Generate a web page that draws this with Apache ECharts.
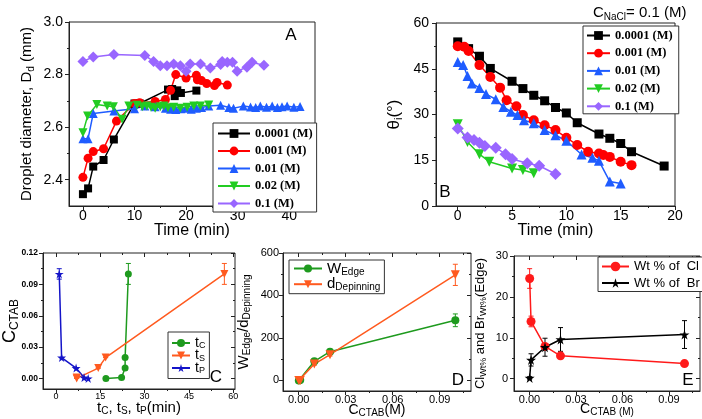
<!DOCTYPE html>
<html><head><meta charset="utf-8">
<script src="https://cdn.jsdelivr.net/npm/echarts@6/dist/echarts.min.js"></script>
<style>html,body{margin:0;padding:0;background:#fff}#c{width:702px;height:419px}</style>
</head><body><div id="c"></div>
<script>
// ---------- DATA ----------
// Panel A: droplet diameter (mm) vs time (min)
const aT1 = [0, 1, 2, 4, 6, 10, 11, 16.5, 17.3, 17.8, 18.3, 19, 22];
const aD1 = [2.345, 2.367, 2.45, 2.475, 2.553, 2.69, 2.69, 2.743, 2.745, 2.718, 2.74, 2.73, 2.739];
const aT2 = [0, 1, 2, 4, 6.5, 10, 11, 14, 16, 17, 18, 20, 22, 22.2, 23, 24, 25.5, 26, 28];
const aD2 = [2.409, 2.482, 2.507, 2.518, 2.623, 2.69, 2.693, 2.698, 2.705, 2.74, 2.80, 2.787, 2.797, 2.78, 2.777, 2.766, 2.758, 2.77, 2.76];
const aT3 = [0, 1, 2, 6, 10, 12, 14, 16, 17, 18, 19, 20, 21, 22, 23, 24.4, 26.7, 28.3, 29.2, 31.1, 32.5, 33.5, 34.4, 35.6, 36.7, 37.7, 38.6, 39.6, 40.9, 42.1];
const aD3 = [2.556, 2.556, 2.652, 2.661, 2.67, 2.68, 2.678, 2.672, 2.668, 2.667, 2.67, 2.672, 2.668, 2.672, 2.675, 2.68, 2.683, 2.675, 2.672, 2.68, 2.677, 2.675, 2.68, 2.676, 2.68, 2.675, 2.678, 2.68, 2.676, 2.679];
const aT4 = [0, 0.9, 2.7, 4.7, 5.9, 7.6, 8.9, 10.5, 11.5, 12.4, 13.2, 14, 15, 15.7, 16.5, 17.6, 18.9, 20.2, 21.5, 22.8, 24.4];
const aD4 = [2.579, 2.642, 2.686, 2.68, 2.678, 2.63, 2.68, 2.683, 2.678, 2.68, 2.676, 2.672, 2.678, 2.68, 2.674, 2.676, 2.672, 2.676, 2.68, 2.68, 2.684];
const aT5 = [0, 2, 6, 12, 13.7, 15, 16.3, 17.6, 18.9, 20, 20.8, 22.8, 24.7, 26.7, 27, 28, 29, 29.9, 31.8, 32.8, 35.1];
const aD5 = [2.85, 2.867, 2.876, 2.873, 2.85, 2.834, 2.834, 2.84, 2.834, 2.813, 2.84, 2.84, 2.825, 2.838, 2.85, 2.847, 2.847, 2.813, 2.828, 2.847, 2.835];

// Panel B: contact angle (deg) vs time (min)
const bT1 = [0, 1, 2, 3, 5, 6, 7, 8, 9, 10, 11, 13, 14, 15, 16, 19];
const bA1 = [53.8, 51.6, 49.1, 45.1, 40.9, 38.5, 36.3, 34.5, 32.3, 30.5, 27.3, 23.6, 22.2, 20.5, 17.8, 13.1];
const bT2 = [0, 0.6, 1, 2, 3, 3.9, 4.5, 5.4, 6, 7, 8, 9, 10, 11, 12, 13, 13.4, 14, 15, 16];
const bA2 = [52.4, 52.2, 50.8, 46.2, 42.3, 38.8, 34.7, 32.7, 29.8, 28.1, 26.5, 24.9, 22.4, 20, 17.8, 17.2, 16.7, 16.1, 14.5, 13.4];
const bT3 = [0, 0.5, 0.9, 1.3, 2, 2.6, 3.5, 4.2, 4.9, 5.5, 6.1, 7, 8, 9, 10, 11.4, 12.4, 13, 14, 15];
const bA3 = [47.2, 46.2, 42.6, 40.2, 38.7, 36.7, 35, 32.5, 30.9, 29.8, 28.1, 27.1, 24.9, 23.2, 21.4, 16.9, 15.8, 14.8, 8, 7.4];
const bT4 = [0, 0.9, 2, 2.9, 5, 6, 7];
const bA4 = [26.8, 21, 17, 14.5, 12.3, 11.8, 10.7];
const bT5 = [0, 0.9, 1.5, 2, 2.5, 3.5, 4.4, 5, 6.4, 7.5, 9];
const bA5 = [25.4, 22.5, 21.6, 20.7, 19.7, 19.1, 17, 15.4, 14, 13.2, 10.5];

const concLabels = ['0.0001 (M)', '0.001 (M)', '0.01 (M)', '0.02 (M)', '0.1 (M)'];

// Panel C: C_CTAB vs characteristic times
const cCTAB = [0.0001, 0.001, 0.01, 0.02, 0.1];
const tC = [16.9, 22.2, 23.4, 23.4, 24.5];
const tCerr = [0, 0, 0, 0, 0.01];
const tS = [7, 7, 14.3, 16.8, 57];
const tSerr = [0, 0, 0, 0, 0.01];
const tP = [10.9, 9.5, 6.8, 1.9, 1.1];
const tPerr = [0, 0, 0, 0, 0.005];

// Panel D: W_Edge and d_Depinning vs C_CTAB
const dW = [0, 2, 90, 135, 283];
const dWerr = [3, 3, 8, 8, 30];
const dD = [0, 0, 77, 121, 497];
const dDerr = [3, 3, 6, 6, 50];

// Panel E: Wt% of Cl and Br at edge vs C_CTAB
const eCl = [24.5, 14, 7.9, 5.6, 3.7];
const eClErr = [2.4, 1.3, 0.5, 0.4, 0.4];
const eBr = [0.2, 4.6, 7.7, 9.6, 10.8];
const eBrErr = [0.3, 1.5, 2.2, 2.9, 3.4];

// tick values
const aXTicks = [0, 10, 20, 30, 40], aXMinor = [5, 15, 25, 35];
const aYTicks = [2.4, 2.6, 2.8, 3.0], aYMinor = [2.5, 2.7, 2.9];
const bXTicks = [0, 5, 10, 15, 20], bXMinor = [2.5, 7.5, 12.5, 17.5];
const bYTicks = [0, 15, 30, 45, 60], bYMinor = [7.5, 22.5, 37.5, 52.5];
const cXTicks = [0, 15, 30, 45, 60], cXMinor = [7.5, 22.5, 37.5, 52.5];
const cYTicks = [0, 0.03, 0.06, 0.09, 0.12], cYMinor = [0.015, 0.045, 0.075, 0.105];
const dXTicks = [0, 0.03, 0.06, 0.09], dXMinor = [0.015, 0.045, 0.075, 0.105];
const dYTicks = [0, 200, 400, 600], dYMinor = [100, 300, 500];
const eYTicks = [0, 10, 20, 30], eYMinor = [5, 15, 25];

// ---------- STYLE / BUILD ----------
const FONT = '"Liberation Sans", Arial, sans-serif';
const SERIF = '"Liberation Serif", "Times New Roman", serif';
const AX = '#222';
const STAR = 'path://M50,0 L61,35 L98,35 L68,57 L79,91 L50,70 L21,91 L32,57 L2,35 L39,35 Z';

function richStyle(m, s, lh) {
  return {
    m: {fontSize: m, fontFamily: FONT, color: '#000', lineHeight: lh},
    s: {fontSize: s, fontFamily: FONT, color: '#000', lineHeight: Math.round(s * 0.8), verticalAlign: 'bottom'}
  };
}

const xAxes = [], yAxes = [], grids = [];

function axisObj(g, pos, s, kind) {
  const o = {
    gridIndex: g, type: 'value', position: pos, min: s.min, max: s.max,
    splitLine: {show: false}, minorTick: {show: false},
    axisLine: {show: kind === 'main', onZero: false, lineStyle: {color: AX, width: 1}},
    axisTick: {show: true, inside: kind.indexOf('mir') === 0, length: (kind === 'minor' || kind === 'mirMinor') ? 2 : 4,
      customValues: (kind === 'minor' || kind === 'mirMinor') ? s.minor : s.major, lineStyle: {color: AX, width: 1}},
    axisLabel: {show: false}
  };
  if (kind === 'main') {
    o.axisLabel = {show: true, customValues: s.major, formatter: s.fmt, margin: s.margin,
      fontSize: s.fs, fontFamily: FONT, fontWeight: s.fw || 'normal', color: '#000'};
    if (s.name) {
      o.name = s.name; o.nameLocation = 'middle'; o.nameGap = s.nameGap; o.nameMoveOverlap = false;
      o.nameTextStyle = {fontFamily: FONT, color: '#000', fontSize: s.nfs || 15, rich: s.rich};
    }
  }
  return o;
}

function addPanel(gridRect, xs, ys, mirror) {
  const g = grids.length;
  grids.push(Object.assign({show: true, borderColor: AX, borderWidth: 1, backgroundColor: 'transparent', containLabel: false}, gridRect));
  const xi = xAxes.length, yi = yAxes.length;
  xAxes.push(axisObj(g, 'bottom', xs, 'main'));
  xAxes.push(axisObj(g, 'bottom', xs, 'minor'));
  yAxes.push(axisObj(g, 'left', ys, 'main'));
  yAxes.push(axisObj(g, 'left', ys, 'minor'));
  if (mirror) {
    xAxes.push(axisObj(g, 'top', xs, 'mirMajor'));
    xAxes.push(axisObj(g, 'top', xs, 'mirMinor'));
    yAxes.push(axisObj(g, 'right', ys, 'mirMajor'));
    yAxes.push(axisObj(g, 'right', ys, 'mirMinor'));
  }
  return {xi, yi};
}

const fmt1 = v => v.toFixed(1);
const fmt2 = v => v.toFixed(2);
const fmt0 = v => String(Math.round(v));

const pA = addPanel({left: 69, top: 22, width: 246, height: 184},
  {min: -2.7, max: 45, major: aXTicks, minor: aXMinor, fmt: fmt0, fs: 14, margin: 3,
   name: 'Time (min)', nameGap: 17, nfs: 16},
  {min: 2.3, max: 3.0, major: aYTicks, minor: aYMinor, fmt: fmt1, fs: 14, margin: 6,
   name: '{m|Droplet diameter, D}{s|d}{m| (mm)}', nameGap: 33, rich: richStyle(15, 10, 18)}, false);

const pB = addPanel({left: 436, top: 23, width: 239, height: 183},
  {min: -2, max: 20, major: bXTicks, minor: bXMinor, fmt: fmt0, fs: 14, margin: 3,
   name: 'Time (min)', nameGap: 17, nfs: 16},
  {min: 0, max: 60, major: bYTicks, minor: bYMinor, fmt: fmt0, fs: 14, margin: 7,
   name: '{m|θ}{s|i}{m|(°)}', nameGap: 32, rich: richStyle(17, 11, 20)}, false);

const pC = addPanel({left: 43, top: 253, width: 192, height: 136},
  {min: -4.4, max: 60.6, major: cXTicks, minor: cXMinor, fmt: fmt0, fs: 9, margin: 3,
   name: '{m|t}{s|C}{m|, t}{s|S}{m|, t}{s|P}{m|(min)}', nameGap: 10, rich: richStyle(15, 10, 17)},
  {min: -0.01, max: 0.12, major: cYTicks, minor: cYMinor, fmt: fmt2, fs: 8.5, fw: 'bold', margin: 5,
   name: '{m|C}{s|CTAB}', nameGap: 22, rich: richStyle(18, 12, 21)}, true);

const pD = addPanel({left: 283, top: 253, width: 188, height: 139},
  {min: -0.01, max: 0.11, major: dXTicks, minor: dXMinor, fmt: fmt2, fs: 11, margin: 3,
   name: '{m|C}{s|CTAB}{m|(M)}', nameGap: 11, rich: richStyle(14, 10, 16)},
  {min: -50, max: 600, major: dYTicks, minor: dYMinor, fmt: fmt0, fs: 11, margin: 4,
   name: '{m|W}{s|Edge}{m|/d}{s|Depinning}', nameGap: 31, rich: richStyle(15, 10, 17)}, true);

const pE = addPanel({left: 514, top: 256, width: 186, height: 135},
  {min: -0.01, max: 0.11, major: dXTicks, minor: dXMinor, fmt: fmt2, fs: 11, margin: 3,
   name: '{m|C}{s|CTAB (M)}', nameGap: 11, rich: richStyle(14, 10, 15)},
  {min: -3, max: 30, major: eYTicks, minor: eYMinor, fmt: fmt0, fs: 11, margin: 6,
   name: '{m|Cl}{s|Wt%}{m| and Br}{s|Wt%}{m|(Edge)}', nameGap: 26, rich: richStyle(13, 9, 15)}, true);

const series = [];
function zip(a, b) { return a.map((v, i) => [v, b[i]]); }
function addLine(name, p, xs, ys, color, symbol, size, rot) {
  series.push({
    name, type: 'line', xAxisIndex: p.xi, yAxisIndex: p.yi, data: zip(xs, ys),
    symbol, symbolSize: size, symbolRotate: rot || 0, showSymbol: true, z: 3,
    lineStyle: {color, width: 1.5}, itemStyle: {color, borderWidth: 0},
    emphasis: {disabled: true}, animation: false
  });
}
function addErr(p, xs, ys, errs, color) {
  const data = xs.map((x, i) => [x, ys[i], errs[i]]);
  series.push({
    type: 'custom', xAxisIndex: p.xi, yAxisIndex: p.yi, data, z: 2, animation: false,
    encode: {x: 0, y: 1},
    renderItem: function (params, api) {
      const x = api.value(0), y = api.value(1), e = api.value(2);
      const t = api.coord([x, y + e]), b = api.coord([x, y - e]);
      const w = 2.5, st = {stroke: color, lineWidth: 1};
      return {type: 'group', children: [
        {type: 'line', shape: {x1: t[0], y1: t[1], x2: b[0], y2: b[1]}, style: st},
        {type: 'line', shape: {x1: t[0] - w, y1: t[1], x2: t[0] + w, y2: t[1]}, style: st},
        {type: 'line', shape: {x1: b[0] - w, y1: b[1], x2: b[0] + w, y2: b[1]}, style: st}
      ]};
    }
  });
}
// Panel A
const colA = ['#000000', '#ff0000', '#1f5cff', '#22cc22', '#9966ff'];
const symA = ['rect', 'circle', 'triangle', 'triangle', 'diamond'];
const rotA = [0, 0, 0, 180, 0];
const sizeA = [8, 9, 9, 9, 11];
[[aT1, aD1], [aT2, aD2], [aT3, aD3], [aT4, aD4], [aT5, aD5]].forEach((d, i) =>
  addLine(concLabels[i], pA, d[0], d[1], colA[i], symA[i], sizeA[i], rotA[i]));
// Panel B (names with trailing space to keep a separate legend)
const colB = ['#000000', '#ff0000', '#1f5cff', '#22cc22', '#9966ff'];
[[bT1, bA1], [bT2, bA2], [bT3, bA3], [bT4, bA4], [bT5, bA5]].forEach((d, i) =>
  addLine(concLabels[i] + ' ', pB, d[0], d[1], colB[i], symA[i], sizeA[i] + 1, rotA[i]));
// Panel C
const gC = '#1e9a1e', oC = '#ff5a1f', nC = '#1414c8';
addErr(pC, tC, cCTAB, tCerr, gC);
addErr(pC, tS, cCTAB, tSerr, oC);
addErr(pC, tP, cCTAB, tPerr, nC);
addLine('tC', pC, tC, cCTAB, gC, 'circle', 7);
addLine('tS', pC, tS, cCTAB, oC, 'triangle', 8, 180);
addLine('tP', pC, tP, cCTAB, nC, STAR, 9);
// Panel D
addErr(pD, cCTAB, dW, dWerr, gC);
addErr(pD, cCTAB, dD, dDerr, oC);
addLine('WEdge', pD, cCTAB, dW, gC, 'circle', 8);
addLine('dDep', pD, cCTAB, dD, oC, 'triangle', 9, 180);
// Panel E
const rE = '#ff1a1a';
addErr(pE, cCTAB, eCl, eClErr, rE);
addErr(pE, cCTAB, eBr, eBrErr, '#000');
addLine('Wt % of  Cl', pE, cCTAB, eCl, rE, 'circle', 9);
addLine('Wt % of  Br', pE, cCTAB, eBr, '#000', STAR, 10);

const legendNames = {
  tC: '{m|t}{s|C}', tS: '{m|t}{s|S}', tP: '{m|t}{s|P}',
  WEdge: '{m|W}{s|Edge}', dDep: '{m|d}{s|Depinning}'
};
const legBase = {orient: 'vertical', selectedMode: false, borderColor: '#333', borderWidth: 1, backgroundColor: '#fff'};
const legends = [
  Object.assign({}, legBase, {left: 213, top: 123, data: concLabels, itemWidth: 32, itemHeight: 11, itemGap: 4.5,
    padding: [4, 4, 2, 4], textStyle: {fontFamily: SERIF, fontWeight: 'bold', fontSize: 12.5, lineHeight: 11, color: '#000'}}),
  Object.assign({}, legBase, {left: 583, top: 26, data: concLabels.map(s => s + ' '), itemWidth: 23, itemHeight: 11, itemGap: 4.7,
    padding: [3, 3, 1, 3], textStyle: {fontFamily: SERIF, fontWeight: 'bold', fontSize: 12.5, lineHeight: 11, color: '#000'}}),
  Object.assign({}, legBase, {left: 168, top: 332, data: ['tC', 'tS', 'tP'], itemWidth: 18, itemHeight: 10, itemGap: -2,
    padding: [4, 4, 3, 3], formatter: n => legendNames[n], textStyle: {rich: richStyle(14, 9, 15)}}),
  Object.assign({}, legBase, {left: 289, top: 260, data: ['WEdge', 'dDep'], itemWidth: 28, itemHeight: 10, itemGap: -0.3,
    padding: [1, 4, 1, 4], formatter: n => legendNames[n], textStyle: {rich: richStyle(15, 10, 17)}}),
  Object.assign({}, legBase, {left: 598, top: 257, data: ['Wt % of  Cl', 'Wt % of  Br'], itemWidth: 27, itemHeight: 12, itemGap: 3.5,
    padding: [3, 3, 2, 3], textStyle: {fontFamily: FONT, fontSize: 13, lineHeight: 12, color: '#000'}})
];

function label(t, x, y, size) {
  return {type: 'text', x, y, silent: true, z: 10,
    style: {text: t, fontFamily: FONT, fontSize: size || 17, fill: '#000', align: 'center', verticalAlign: 'middle'}};
}

const chart = echarts.init(document.getElementById('c'), null, {renderer: 'canvas'});
chart.setOption({
  animation: false,
  backgroundColor: '#fff',
  grid: grids, xAxis: xAxes, yAxis: yAxes, legend: legends, series,
  graphic: [
    label('A', 291, 35), label('B', 445, 192), label('C', 216, 377), label('D', 458, 380), label('E', 688, 380),
    {type: 'text', x: 593, y: 13, silent: true,
     style: {text: '{m|C}{s|NaCl}{m|= 0.1 (M)}', rich: richStyle(15, 10, 18), verticalAlign: 'middle', align: 'left'}}
  ]
});
</script></body></html>
